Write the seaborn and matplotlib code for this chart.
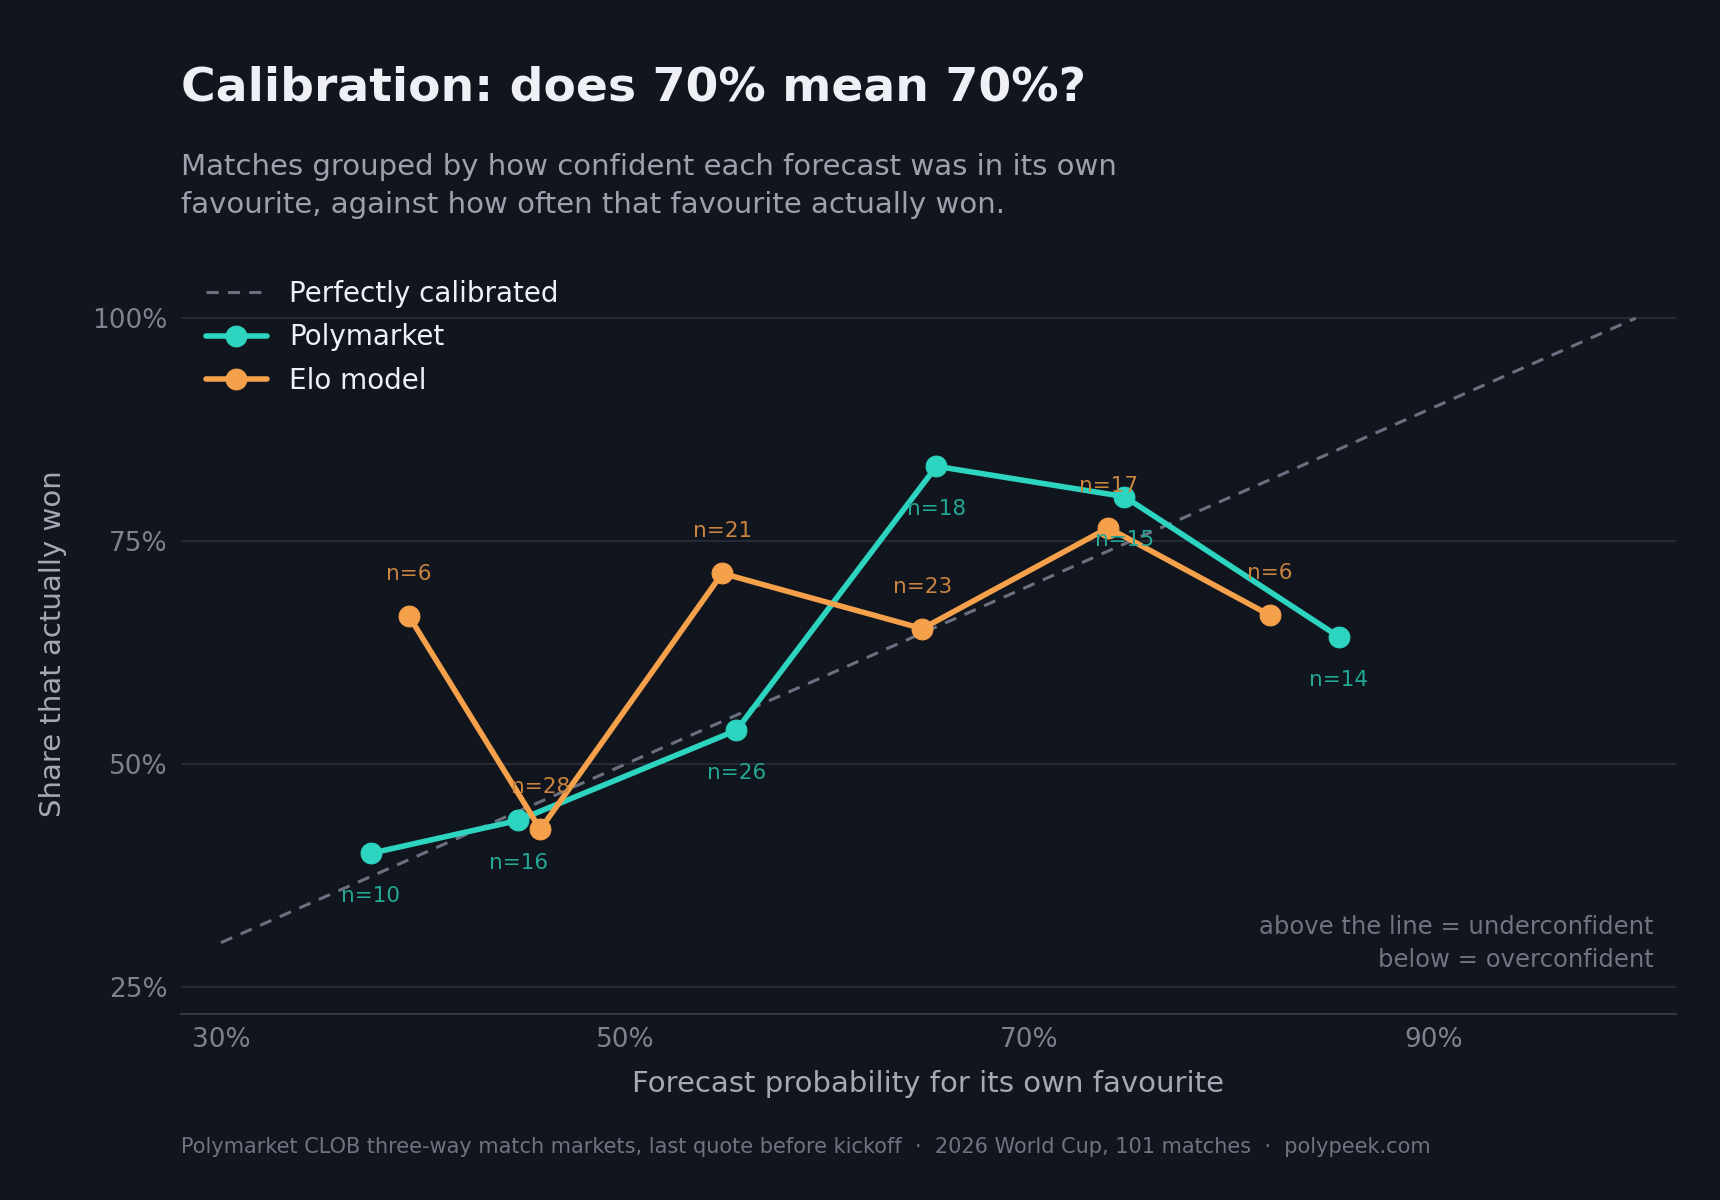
import matplotlib
matplotlib.use("Agg")
import matplotlib.pyplot as plt
import seaborn as sns
import pandas as pd

poly_x = [37.4, 44.7, 55.5, 65.4, 74.7, 85.3]
poly_y = [40.0, 43.7, 53.8, 83.4, 80.0, 64.3]
poly_n = [10, 16, 26, 18, 15, 14]
elo_x = [39.3, 45.8, 54.8, 64.7, 73.9, 81.9]
elo_y = [66.6, 42.7, 71.4, 65.2, 76.5, 66.7]
elo_n = [6, 28, 21, 23, 17, 6]
diag = [30, 100]
xticks = [30, 50, 70, 90]
yticks = [25, 50, 75, 100]

BG = "#11151d"
TEAL = "#2dd4bf"
ORANGE = "#f5a04a"

sns.set_theme(style="dark")
plt.rcParams["font.family"] = ["DejaVu Sans"]

fig = plt.figure(figsize=(17.2, 12), dpi=100, facecolor=BG)
ax = fig.add_axes([0.105, 0.155, 0.8695, 0.617])
ax.set_facecolor(BG)

ax.plot(diag, diag, ls=(0, (4, 3)), color="#6b7080", lw=2.2, label="Perfectly calibrated")
dp = pd.DataFrame({"x": poly_x, "y": poly_y})
de = pd.DataFrame({"x": elo_x, "y": elo_y})
sns.lineplot(data=dp, x="x", y="y", ax=ax, color=TEAL, lw=4, marker="o", markersize=15,
             markeredgecolor=TEAL, label="Polymarket", sort=False)
sns.lineplot(data=de, x="x", y="y", ax=ax, color=ORANGE, lw=4, marker="o", markersize=15,
             markeredgecolor=ORANGE, label="Elo model", sort=False)

for x, y, n in zip(poly_x, poly_y, poly_n):
    ax.annotate(f"n={n}", (x, y), xytext=(0, -43), textcoords="offset pixels",
                ha="center", va="center", fontsize=15.5, color="#22a895")
for x, y, n in zip(elo_x, elo_y, elo_n):
    ax.annotate(f"n={n}", (x, y), xytext=(0, 42), textcoords="offset pixels",
                ha="center", va="center", fontsize=15.5, color="#c9843f")

ax.set_xlim(28, 102)
ax.set_ylim(22, 105)
ax.set_xticks(xticks)
ax.set_xticklabels([f"{t}%" for t in xticks])
ax.set_yticks(yticks)
ax.set_yticklabels([f"{t}%" for t in yticks])
ax.tick_params(colors="#7d828f", labelsize=19, length=6, color="#3a3f4a")
ax.grid(axis="y", color="#2a2f3a", lw=1.2)
ax.grid(axis="x", visible=False)
for s in ["top", "right", "left"]:
    ax.spines[s].set_visible(False)
ax.spines["bottom"].set_color("#3a3f4a")
ax.set_xlabel("Forecast probability for its own favourite", fontsize=21, color="#a4a9b5", labelpad=12)
ax.set_ylabel("Share that actually won", fontsize=21, color="#a4a9b5", labelpad=18)

leg = ax.legend(loc="upper left", bbox_to_anchor=(0.0, 1.025), frameon=False, fontsize=20,
                labelcolor="#eef0f5", handlelength=2.2, labelspacing=0.55)

ax.text(0.985, 0.095, "above the line = underconfident\nbelow = overconfident", transform=ax.transAxes,
        ha="right", va="center", fontsize=17.5, color="#6f7482", linespacing=1.5)

fig.text(0.105, 0.927, "Calibration: does 70% mean 70%?", fontsize=34, fontweight="bold", color="#eef0f5",
         va="center")
fig.text(0.105, 0.845, "Matches grouped by how confident each forecast was in its own\nfavourite, against how often that favourite actually won.",
         fontsize=21, color="#9ca1ad", va="center", linespacing=1.45)
fig.text(0.105, 0.044, "Polymarket CLOB three-way match markets, last quote before kickoff  ·  2026 World Cup, 101 matches  ·  polypeek.com",
         fontsize=15, color="#6f7482", va="center")

fig.savefig("out.png", dpi=100, facecolor=BG)
